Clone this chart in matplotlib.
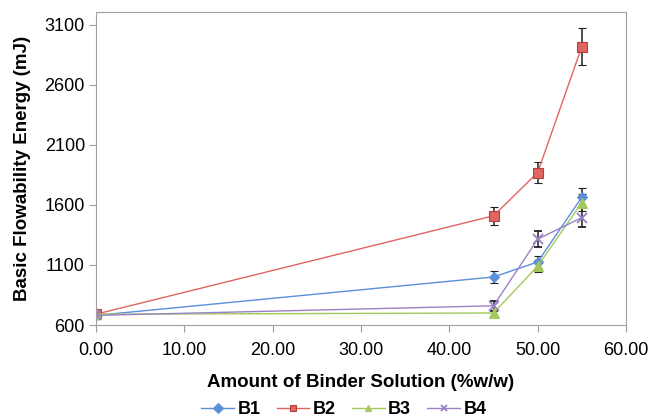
import matplotlib.pyplot as plt
from matplotlib.lines import Line2D
import numpy as np

# binder solution amount (%w/w)
binder = [0.0, 45.0, 50.0, 55.0]

# basic flowability energy (mJ) and error bars
b1 = [680, 1000, 1125, 1665]
b1_err = [30, 50, 50, 80]
b2 = [690, 1510, 1870, 2920]
b2_err = [30, 75, 90, 155]
b3 = [690, 700, 1090, 1620]
b3_err = [30, 25, 50, 70]
b4 = [680, 760, 1315, 1495]
b4_err = [30, 40, 65, 80]

series = [
    ("B1", b1, b1_err, "#5B8FD8", "D", 5.5),
    ("B2", b2, b2_err, "#E06560", "s", 7),
    ("B3", b3, b3_err, "#A3C95E", "^", 7),
    ("B4", b4, b4_err, "#9A80C4", "x", 7),
]

plt.rcParams['font.family'] = ['Liberation Sans', 'DejaVu Sans']

fig = plt.figure(figsize=(6.51, 4.18), dpi=100)
ax = fig.add_axes([96 / 651, 1 - 325 / 418, 530 / 651, 313 / 418])

handles = []
for name, y, err, color, marker, ms in series:
    edge = "#B8403C" if marker == "s" else color
    mew = 1.3 if marker == "x" else 0.8
    ax.errorbar(binder, y, yerr=err, color=color, marker=marker, markersize=ms,
                markeredgecolor=edge, markeredgewidth=mew,
                linewidth=1.0, ecolor="#222222", elinewidth=1.1, capsize=3,
                capthick=1.1)
    handles.append(Line2D([], [], color=color, marker=marker, markersize=5,
                          markeredgecolor=edge, markeredgewidth=mew,
                          linewidth=1.0, label=name))

ax.set_xlim(0, 60)
ax.set_ylim(600, 3208)
ax.set_xticks(np.arange(0, 61, 10))
ax.set_xticklabels(["%.2f" % v for v in np.arange(0, 61, 10)])
ax.set_yticks(np.arange(600, 3101, 500))

for s in ax.spines.values():
    s.set_color("#A0A0A0")
ax.tick_params(direction="out", colors="#A0A0A0", labelcolor="black",
               labelsize=13, length=5, pad=3)
ax.tick_params(axis="x", pad=7)

ax.set_xlabel("Amount of Binder Solution (%w/w)", fontsize=13.5, fontweight="bold", labelpad=11)
ax.set_ylabel("Basic Flowability Energy (mJ)", fontsize=13.5, fontweight="bold", labelpad=10)

fig.legend(handles=handles, loc="center", bbox_to_anchor=(344 / 651, 1 - 410 / 418),
           ncol=4, frameon=False, prop={"weight": "bold", "size": 13},
           handlelength=1.8, columnspacing=0.9, handletextpad=0.2)

fig.savefig("out.png", dpi=100)
